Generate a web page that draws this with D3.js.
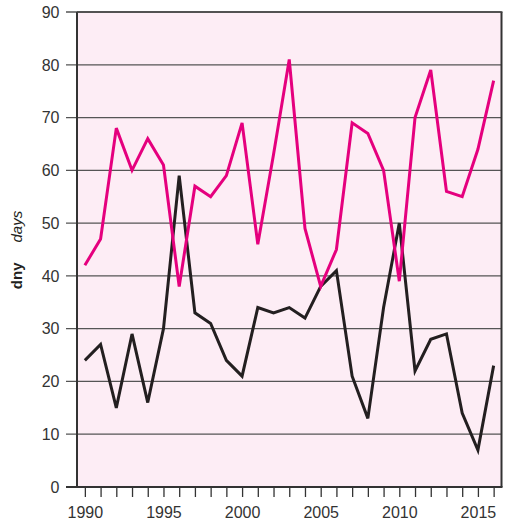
<!DOCTYPE html>
<html>
<head>
<meta charset="utf-8">
<script src="https://cdn.jsdelivr.net/npm/d3@7"></script>
<style>
  html, body { margin: 0; padding: 0; background: #fff; }
  svg { display: block; }
  text { font-family: "Liberation Sans", Arial, Helvetica, sans-serif; }
</style>
</head>
<body>
<svg id="chart" width="509" height="521"></svg>
<script>
const years = d3.range(1990, 2017);
const pinkSeries = [42, 47, 68, 60, 66, 61, 38, 57, 55, 59, 69, 46, 63, 81, 49, 38, 45, 69, 67, 60, 39, 70, 79, 56, 55, 64, 77];
const blackSeries = [24, 27, 15, 29, 16, 30, 59, 33, 31, 24, 21, 34, 33, 34, 32, 38, 41, 21, 13, 34, 50, 22, 28, 29, 14, 7, 23];
const yTicks = [0, 10, 20, 30, 40, 50, 60, 70, 80, 90];
const xLabels = [1990, 1995, 2000, 2005, 2010, 2015];

const svg = d3.select("#chart");
const pLeft = 77, pRight = 501.5, pTop = 12, pBottom = 487;

const x = d3.scaleLinear().domain([1989.5, 2016.5]).range([pLeft, pRight]);
const y = d3.scaleLinear().domain([0, 90]).range([pBottom, pTop]);

// plot background
svg.append("rect")
  .attr("x", pLeft).attr("y", pTop)
  .attr("width", pRight - pLeft).attr("height", pBottom - pTop)
  .attr("fill", "#fdedf5");

// gridlines
svg.append("g").selectAll("line").data(yTicks).join("line")
  .attr("x1", 66).attr("x2", pRight)
  .attr("y1", d => y(d)).attr("y2", d => y(d))
  .attr("stroke", "#555").attr("stroke-width", 1.3);

// y tick labels
svg.append("g").selectAll("text").data(yTicks).join("text")
  .attr("x", 59.5).attr("y", d => y(d))
  .attr("dy", "0.36em")
  .attr("text-anchor", "end")
  .attr("font-size", 16)
  .attr("fill", "#333")
  .text(d => d);

// x axis ticks
const xAxis = d3.axisBottom(x).tickValues(years).tickSize(10).tickFormat(d => xLabels.includes(d) ? d : "");
const gx = svg.append("g").attr("transform", `translate(0,${pBottom})`).call(xAxis);
gx.select(".domain").remove();
gx.selectAll(".tick line").attr("stroke", "#333").attr("stroke-width", 1.3);
gx.selectAll(".tick text")
  .attr("font-size", 16).attr("fill", "#333")
  .attr("font-family", "Liberation Sans, Arial, sans-serif")
  .attr("y", 20).attr("dy", "0.71em");

// frame
svg.append("line").attr("x1", pLeft).attr("x2", pLeft).attr("y1", pTop).attr("y2", pBottom)
  .attr("stroke", "#333").attr("stroke-width", 2);
svg.append("line").attr("x1", pRight).attr("x2", pRight).attr("y1", pTop).attr("y2", pBottom)
  .attr("stroke", "#333").attr("stroke-width", 2);
svg.append("line").attr("x1", 66).attr("x2", pRight + 1).attr("y1", pBottom).attr("y2", pBottom)
  .attr("stroke", "#333").attr("stroke-width", 2);
svg.append("line").attr("x1", pLeft).attr("x2", pRight + 1).attr("y1", pTop).attr("y2", pTop)
  .attr("stroke", "#444").attr("stroke-width", 1.5);

// lines
const line = d3.line().x((d, i) => x(years[i])).y(d => y(d));
svg.append("path").datum(blackSeries)
  .attr("d", line).attr("fill", "none")
  .attr("stroke", "#231f20").attr("stroke-width", 3).attr("stroke-linejoin", "miter");
svg.append("path").datum(pinkSeries)
  .attr("d", line).attr("fill", "none")
  .attr("stroke", "#e5007e").attr("stroke-width", 3).attr("stroke-linejoin", "miter");

// y axis title
const title = svg.append("text")
  .attr("transform", "translate(22,250) rotate(-90)")
  .attr("text-anchor", "middle")
  .attr("font-size", 15)
  .attr("fill", "#231f20");
title.append("tspan").attr("font-weight", "bold").text("dny");
title.append("tspan").attr("dx", 20).attr("font-style", "italic").text("days");
</script>
</body>
</html>
